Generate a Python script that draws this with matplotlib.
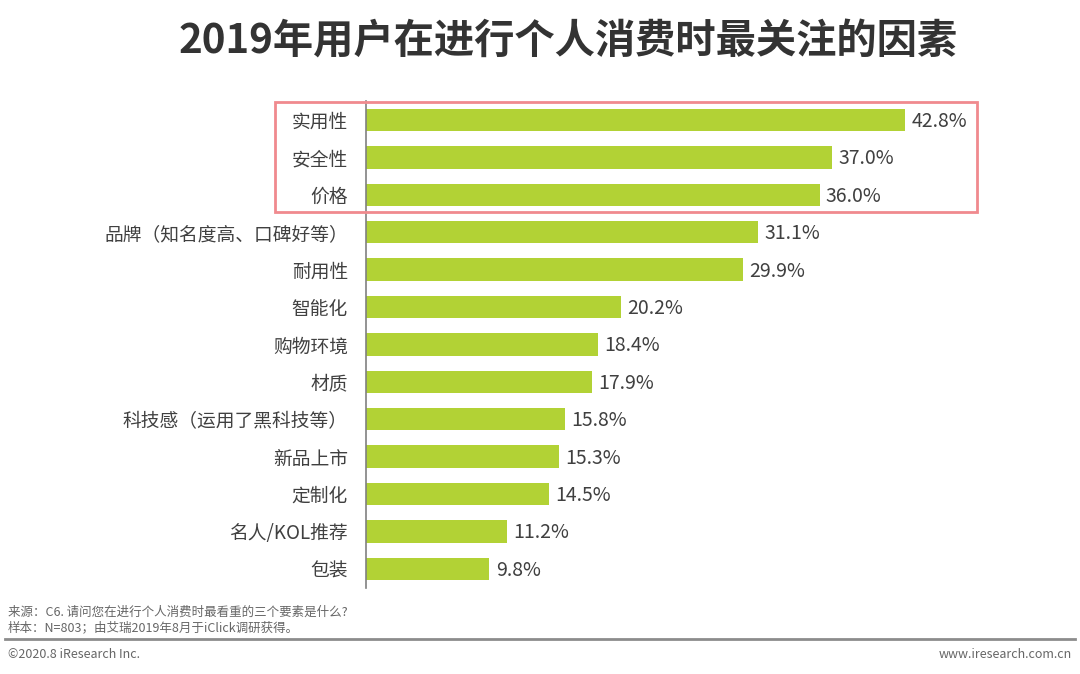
import matplotlib.pyplot as plt
from matplotlib.patches import Rectangle
from matplotlib.lines import Line2D

plt.rcParams['font.family'] = ['Noto Sans CJK SC', 'DejaVu Sans']

factors = ['实用性', '安全性', '价格', '品牌（知名度高、口碑好等）', '耐用性', '智能化',
           '购物环境', '材质', '科技感（运用了黑科技等）', '新品上市', '定制化',
           '名人/KOL推荐', '包装']
shares = [42.8, 37.0, 36.0, 31.1, 29.9, 20.2, 18.4, 17.9, 15.8, 15.3, 14.5, 11.2, 9.8]

bar_color = '#B2D235'
text_color = '#404040'

fig = plt.figure(figsize=(10.8, 6.74), dpi=100)
ax = fig.add_axes([366 / 1080, 0.1283, 630 / 1080, 0.7214])

y = range(len(factors))
ax.barh(y, shares, height=0.6, color=bar_color)
for i, v in enumerate(shares):
    ax.text(v + 0.5, i + 0.04, '%.1f%%' % v, va='center', ha='left', fontsize=14, color=text_color)

ax.set_xlim(0, 50)
ax.set_ylim(12.5, -0.5)
ax.set_yticks(list(y))
ax.set_yticklabels(factors, fontsize=13.5, color=text_color)
ax.tick_params(axis='y', length=0, pad=13)
ax.set_xticks([])
for s in ['top', 'right', 'bottom']:
    ax.spines[s].set_visible(False)
ax.spines['left'].set_color('#808080')
ax.spines['left'].set_linewidth(1.2)

# highlight box around top three
fig.patches.append(Rectangle((275 / 1080, 1 - 212 / 674), 702 / 1080, 110 / 674,
                             transform=fig.transFigure, fill=False,
                             edgecolor='#F08A8E', linewidth=2))

fig.text(568 / 1080, 1 - 42 / 674, '2019年用户在进行个人消费时最关注的因素', ha='center', va='center',
         fontsize=29, fontweight='bold', color='#333333')

fig.text(8 / 1080, 1 - 612 / 674, '来源：C6. 请问您在进行个人消费时最看重的三个要素是什么?',
         fontsize=9, color='#666666', va='center')
fig.text(8 / 1080, 1 - 628 / 674, '样本：N=803；由艾瑞2019年8月于iClick调研获得。',
         fontsize=9, color='#666666', va='center')
fig.lines.append(Line2D([5 / 1080, 1075 / 1080], [1 - 639 / 674, 1 - 639 / 674],
                        transform=fig.transFigure, color='#8C8C8C', linewidth=2))
fig.text(8 / 1080, 1 - 654 / 674, '©2020.8 iResearch Inc.', fontsize=9, color='#666666', va='center')
fig.text(1072 / 1080, 1 - 654 / 674, 'www.iresearch.com.cn', fontsize=9, color='#666666',
         va='center', ha='right')

fig.savefig('out.png', dpi=100)
